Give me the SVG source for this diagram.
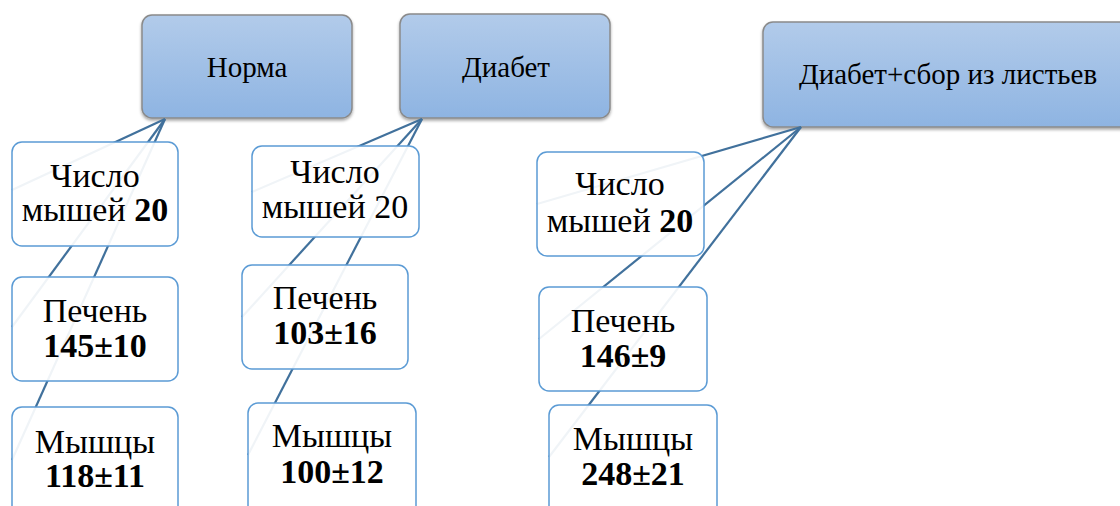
<svg xmlns="http://www.w3.org/2000/svg" width="1120" height="506" viewBox="0 0 1120 506">
<defs>
<linearGradient id="hg" x1="0" y1="0" x2="0" y2="1">
<stop offset="0" stop-color="#b2cbea"/>
<stop offset="1" stop-color="#8eb4e2"/>
</linearGradient>
<filter id="sh" x="-5%" y="-5%" width="110%" height="115%">
<feDropShadow dx="0" dy="2" stdDeviation="1.5" flood-color="#000" flood-opacity="0.35"/>
</filter>
</defs>
<style>
.head{fill:url(#hg);stroke:#8a8a8a;stroke-width:1.5;filter:url(#sh)}
.child{fill:#ffffff;fill-opacity:0.92;stroke:#5b9bd5;stroke-width:1.5}
.ht{font-family:"Liberation Serif","Times New Roman",serif;font-size:29px;fill:#000;text-anchor:middle}
.ct{font-family:"Liberation Serif","Times New Roman",serif;font-size:34px;fill:#000;text-anchor:middle}
.b{font-weight:bold}
.con line{stroke:#41719c;stroke-width:2.2;fill:none}
</style>
<rect width="1120" height="506" fill="#ffffff"/>
<g id="h1"><rect class="head" x="142" y="15" width="210" height="103" rx="10"/><text class="ht" x="247" y="77">Норма</text></g>
<g id="h2"><rect class="head" x="400" y="14" width="210" height="104" rx="10"/><text class="ht" x="506" y="77">Диабет</text></g>
<g id="h3"><rect class="head" x="763" y="22" width="370" height="105" rx="10"/><text class="ht" x="948" y="84">Диабет+сбор из листьев</text></g>
<g class="con">
<line x1="165" y1="119" x2="12" y2="190"/>
<line x1="165" y1="119" x2="12" y2="327"/>
<line x1="165" y1="119" x2="12" y2="460"/>
<line x1="422" y1="119" x2="252" y2="192"/>
<line x1="422" y1="119" x2="242" y2="317"/>
<line x1="422" y1="119" x2="248" y2="455"/>
<line x1="801" y1="127" x2="537" y2="204"/>
<line x1="801" y1="127" x2="539" y2="339"/>
<line x1="801" y1="127" x2="549" y2="457"/>
</g>
<g id="n1"><rect class="child" x="12" y="142" width="166" height="104" rx="10"/><text class="ct" x="95" y="187">Число</text><text class="ct" x="95" y="221">мышей <tspan class="b">20</tspan></text></g>
<g id="n2"><rect class="child" x="12" y="277" width="166" height="104" rx="10"/><text class="ct" x="95" y="322">Печень</text><text class="ct b" x="95" y="357">145±10</text></g>
<g id="n3"><rect class="child" x="12" y="407" width="166" height="120" rx="10"/><text class="ct" x="95" y="453">Мышцы</text><text class="ct b" x="95" y="487">118±11</text></g>
<g id="n4"><rect class="child" x="252" y="146" width="167" height="91" rx="10"/><text class="ct" x="335" y="183">Число</text><text class="ct" x="335" y="218">мышей 20</text></g>
<g id="n5"><rect class="child" x="242" y="265" width="166" height="104" rx="10"/><text class="ct" x="325" y="309">Печень</text><text class="ct b" x="325" y="344">103±16</text></g>
<g id="n6"><rect class="child" x="248" y="403" width="168" height="120" rx="10"/><text class="ct" x="332" y="447">Мышцы</text><text class="ct b" x="332" y="483">100±12</text></g>
<g id="n7"><rect class="child" x="537" y="152" width="167" height="104" rx="10"/><text class="ct" x="620" y="195">Число</text><text class="ct" x="620" y="232">мышей <tspan class="b">20</tspan></text></g>
<g id="n8"><rect class="child" x="539" y="287" width="168" height="104" rx="10"/><text class="ct" x="623" y="332">Печень</text><text class="ct b" x="623" y="367">146±9</text></g>
<g id="n9"><rect class="child" x="549" y="405" width="168" height="120" rx="10"/><text class="ct" x="633" y="450">Мышцы</text><text class="ct b" x="633" y="485">248±21</text></g>
</svg>
